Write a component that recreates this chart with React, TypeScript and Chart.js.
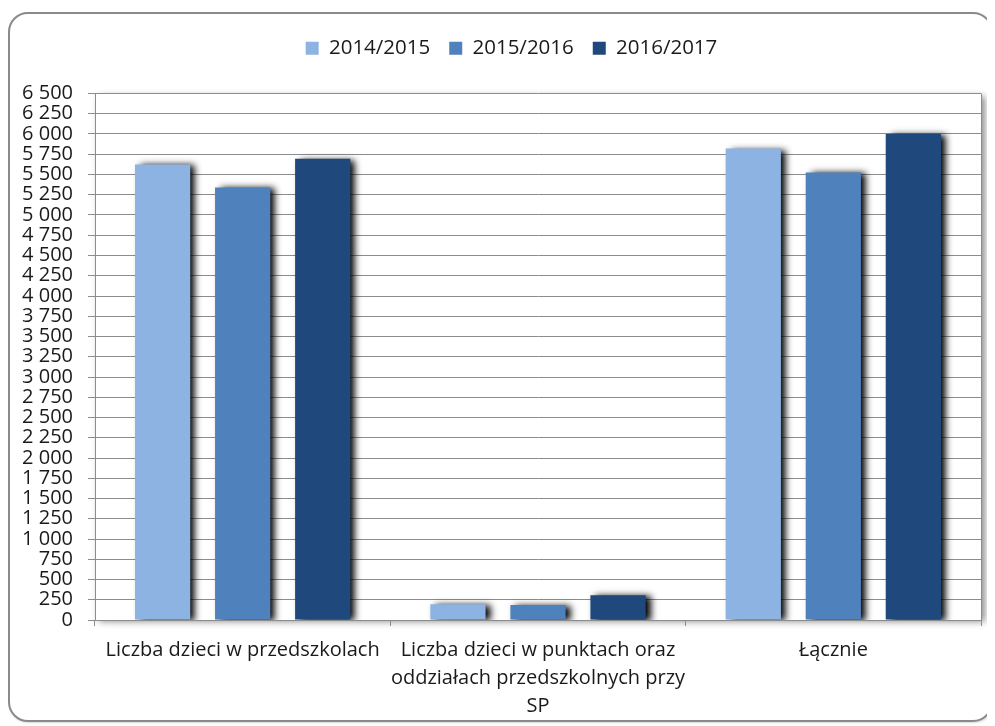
import React, { useEffect, useRef } from "react";
import { Chart, registerables } from "chart.js";

Chart.register(...registerables);

const categories: (string | string[])[] = [
  "Liczba dzieci w przedszkolach",
  ["Liczba dzieci w punktach oraz", "oddziałach przedszkolnych przy", "SP"],
  "Łącznie",
];
const seriesNames = ["2014/2015", "2015/2016", "2016/2017"];
const values2014 = [5625, 195, 5820];
const values2015 = [5340, 185, 5525];
const values2016 = [5695, 305, 6000];
const seriesColors = ["#8DB3E2", "#4F81BD", "#1F497D"];
const yMax = 6500;
const yStep = 250;

const FONT = "'Open Sans', 'DejaVu Sans', sans-serif";

function formatTick(v: number): string {
  if (v >= 1000) {
    const th = Math.floor(v / 1000);
    const rest = String(v % 1000).padStart(3, "0");
    return `${th} ${rest}`;
  }
  return String(v);
}

export default function App() {
  const canvasRef = useRef<HTMLCanvasElement | null>(null);

  useEffect(() => {
    const canvas = canvasRef.current;
    if (!canvas) return;

    const legendSpace = {
      id: "legendSpace",
      beforeLayout(chart: any) {
        const legend = chart.legend;
        if (!legend || legend.__patched) return;
        legend.__patched = true;
        const orig = legend.fit;
        legend.fit = function () {
          orig.call(this);
          this.height += 25;
        };
      },
      afterLayout(chart: any) {
        const legend = chart.legend;
        if (!legend) return;
        legend.left += 16;
        legend.right += 16;
      },
    };

    const plotBg = {
      id: "plotBg",
      beforeDraw(chart: any) {
        const { ctx, chartArea } = chart;
        ctx.save();
        ctx.shadowColor = "rgba(0,0,0,0.45)";
        ctx.shadowBlur = 7;
        ctx.shadowOffsetX = 4;
        ctx.shadowOffsetY = 2;
        ctx.fillStyle = "#ffffff";
        ctx.fillRect(
          chartArea.left,
          chartArea.top,
          chartArea.right - chartArea.left,
          chartArea.bottom - chartArea.top
        );
        ctx.restore();
      },
      beforeDatasetsDraw(chart: any) {
        const { ctx, chartArea } = chart;
        ctx.save();
        ctx.strokeStyle = "#8c8c8c";
        ctx.lineWidth = 1;
        ctx.beginPath();
        const x = Math.round(chartArea.right) + 0.5;
        ctx.moveTo(x, chartArea.top);
        ctx.lineTo(x, chartArea.bottom);
        ctx.stroke();
        ctx.restore();
        ctx.save();
        ctx.shadowColor = "rgba(0,0,0,1)";
        ctx.shadowBlur = 7;
        ctx.shadowOffsetX = 5;
        ctx.shadowOffsetY = 1;
      },
      afterDatasetsDraw(chart: any) {
        chart.ctx.restore();
      },
    };

    const chart = new Chart(canvas, {
      type: "bar",
      data: {
        labels: categories,
        datasets: [
          { label: seriesNames[0], data: values2014, backgroundColor: seriesColors[0] },
          { label: seriesNames[1], data: values2015, backgroundColor: seriesColors[1] },
          { label: seriesNames[2], data: values2016, backgroundColor: seriesColors[2] },
        ],
      },
      options: {
        responsive: false,
        animation: false,
        devicePixelRatio: 1,
        datasets: {
          bar: {
            categoryPercentage: 0.813,
            barPercentage: 0.69,
          },
        },
        layout: { padding: { top: 11, left: 0, right: 10, bottom: 0 } },
        plugins: {
          tooltip: { enabled: false },
          legend: {
            position: "top",
            labels: {
              boxWidth: 13,
              boxHeight: 13,
              padding: 19,
              color: "#1a1a1a",
              font: { family: FONT, size: 20.5 },
            },
          },
        },
        scales: {
          x: {
            grid: {
              drawOnChartArea: false,
              drawTicks: true,
              tickLength: 6,
              color: "#8c8c8c",
            },
            border: { display: true, color: "#8c8c8c" },
            ticks: {
              color: "#1a1a1a",
              padding: 10,
              maxRotation: 0,
              autoSkip: false,
              font: { family: FONT, size: 20, lineHeight: 1.4 },
            },
            afterFit(scale: any) {
              scale.height = 100;
            },
          },
          y: {
            min: 0,
            max: yMax,
            grid: {
              color: "#8c8c8c",
              drawTicks: true,
              tickLength: 7,
            },
            border: { display: true, color: "#8c8c8c" },
            ticks: {
              stepSize: yStep,
              color: "#1a1a1a",
              padding: 15,
              autoSkip: false,
              font: { family: FONT, size: 20, lineHeight: 1.0 },
              callback: (v: any) => formatTick(Number(v)),
            },
            afterFit(scale: any) {
              scale.width = 85;
            },
          },
        },
      },
      plugins: [legendSpace, plotBg],
    } as any);

    return () => {
      chart.destroy();
    };
  }, []);

  return (
    <div style={{ position: "relative", width: 985, height: 718 }}>
      <div
        style={{
          position: "absolute",
          left: 0,
          top: 4,
          width: 985,
          height: 710,
          boxSizing: "border-box",
          border: "2px solid #8a8a8a",
          borderRadius: 20,
          boxShadow: "1px 1px 2px rgba(0,0,0,0.15)",
          background: "#ffffff",
        }}
      />
      <canvas
        ref={canvasRef}
        width={981}
        height={712}
        style={{ position: "absolute", left: 2, top: 0, width: 981, height: 712 }}
      />
    </div>
  );
}
